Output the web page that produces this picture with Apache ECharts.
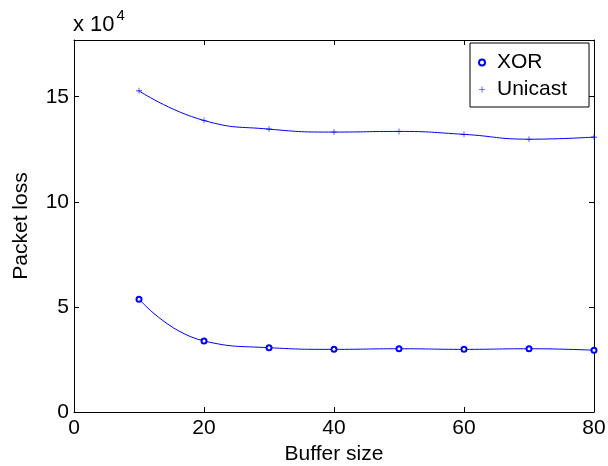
<!DOCTYPE html>
<html>
<head>
<meta charset="utf-8">
<script src="https://cdn.jsdelivr.net/npm/echarts@6/dist/echarts.min.js"></script>
<style>
  html, body { margin: 0; padding: 0; background: #fff; }
  #chart { width: 608px; height: 466px; }
</style>
</head>
<body>
<div id="chart"></div>
<script>
// buffer sizes (x) and packet loss values
const bufferSize = [10, 20, 30, 40, 50, 60, 70, 80]
const xorLoss = [53700, 33800, 30600, 29800, 30100, 29800, 30100, 29400]
const unicastLoss = [152800, 138700, 134600, 133200, 133500, 132100, 129800, 130800]
const seriesNames = ['XOR', 'Unicast']
const yTicks = [0, 50000, 100000, 150000]

const font = 'Liberation Sans, Arial, Helvetica, sans-serif'
const fs = 21
const blue = '#0000ff'
const plus = 'path://M-1,-0.1L1,-0.1L1,0.1L-1,0.1Z M-0.1,-1L0.1,-1L0.1,1L-0.1,1Z'

function pairs(ys) {
  return bufferSize.map((x, i) => [x, ys[i]])
}

const chart = echarts.init(document.getElementById('chart'))

// shared axis look: black line, inside ticks
const axisBase = {
  axisLine: { show: true, onZero: false, lineStyle: { color: '#000', width: 1 } },
  axisTick: { show: true, inside: true, length: 5, lineStyle: { color: '#000' } },
  splitLine: { show: false }
}

chart.setOption({
  backgroundColor: '#fff',
  animation: false,
  textStyle: { fontFamily: font },
  grid: { left: 74, right: 14, top: 40, bottom: 54, containLabel: false, outerBoundsMode: 'none' },
  legend: {
    orient: 'vertical',
    left: 470,
    top: 43,
    padding: [9, 22, 7, 8],
    itemWidth: 20,
    itemHeight: 6,
    itemGap: 6,
    borderColor: '#000',
    borderWidth: 1,
    backgroundColor: '#fff',
    textStyle: { fontFamily: font, fontSize: fs, color: '#000' },
    data: [
      { name: seriesNames[0], icon: 'emptyCircle' },
      { name: seriesNames[1], icon: plus }
    ]
  },
  xAxis: [
    {
      ...axisBase,
      type: 'value',
      position: 'bottom',
      min: 0,
      max: 80,
      interval: 20,
      name: 'Buffer size',
      nameLocation: 'middle',
      nameGap: 27,
      nameTextStyle: { fontFamily: font, fontSize: fs, color: '#000' },
      axisLabel: { margin: 6, fontFamily: font, fontSize: fs, color: '#000' }
    },
    {
      ...axisBase,
      type: 'value',
      position: 'top',
      min: 0,
      max: 80,
      interval: 20,
      axisLabel: { show: false }
    }
  ],
  yAxis: [
    {
      ...axisBase,
      type: 'value',
      position: 'left',
      min: 0,
      max: 177000,
      interval: 50000,
      name: 'Packet loss',
      nameLocation: 'middle',
      nameGap: 42,
      nameTextStyle: { fontFamily: font, fontSize: fs, color: '#000' },
      axisLabel: {
        margin: 5,
        fontFamily: font,
        fontSize: fs,
        color: '#000',
        showMaxLabel: false,
        formatter: v => (yTicks.includes(v) ? String(v / 10000) : '')
      }
    },
    {
      ...axisBase,
      type: 'value',
      position: 'right',
      min: 0,
      max: 177000,
      interval: 50000,
      axisLabel: { show: false }
    }
  ],
  graphic: [
    {
      type: 'text',
      left: 73,
      top: 8,
      style: {
        text: '{a|x 10}{b|4}',
        rich: {
          a: { fontFamily: font, fontSize: 22, fill: '#000', verticalAlign: 'bottom', lineHeight: 28 },
          b: { fontFamily: font, fontSize: 15, fill: '#000', verticalAlign: 'top', padding: [0, 0, 12, 2] }
        }
      }
    }
  ],
  series: [
    {
      name: seriesNames[0],
      type: 'line',
      data: pairs(xorLoss),
      smooth: 0.5,
      symbol: 'emptyCircle',
      symbolSize: 5,
      itemStyle: { color: blue, borderColor: blue, borderWidth: 0.8 },
      lineStyle: { color: blue, width: 1 }
    },
    {
      name: seriesNames[1],
      type: 'line',
      data: pairs(unicastLoss),
      smooth: 0.5,
      symbol: plus,
      symbolSize: 6,
      itemStyle: { color: blue },
      lineStyle: { color: blue, width: 1 }
    }
  ]
})
</script>
</body>
</html>
